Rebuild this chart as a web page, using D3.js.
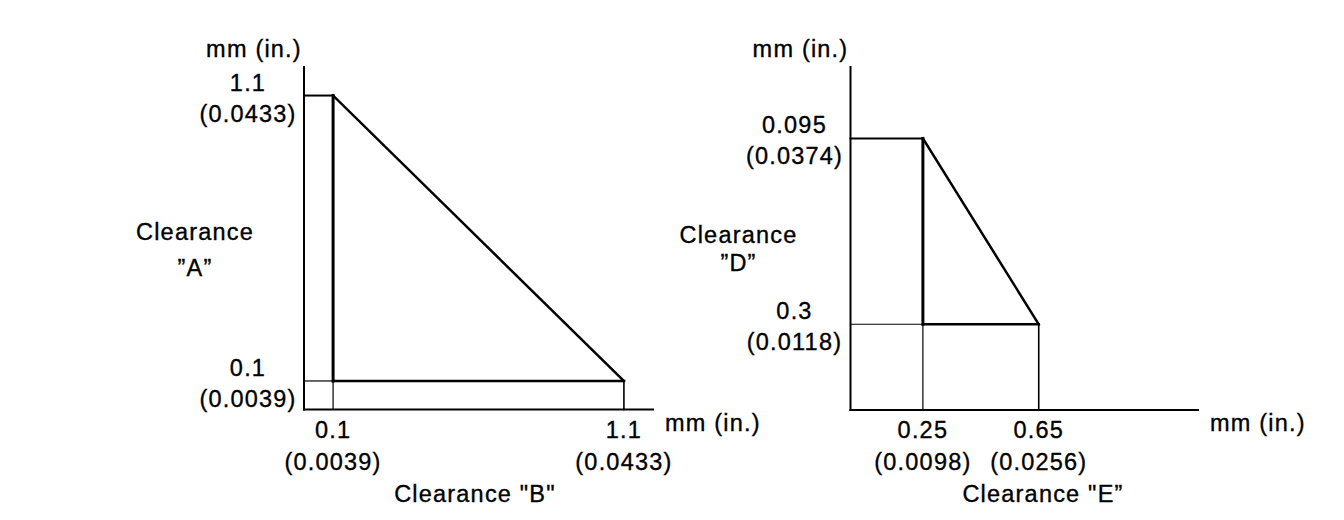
<!DOCTYPE html>
<html>
<head>
<meta charset="utf-8">
<script src="https://cdn.jsdelivr.net/npm/d3@7"></script>
<style>
  html, body { margin: 0; padding: 0; background: #fff; }
  svg text { font-family: "Liberation Sans", Arial, Helvetica, sans-serif; font-size: 23.5px; letter-spacing: 1.2px; fill: #000; stroke: #000; stroke-width: 0.35px; }
</style>
</head>
<body>
<svg id="chart" width="1344" height="520"></svg>
<script>
// ---- data (mm values, with inch equivalents as labels) ----
const leftXTicks = [0.1, 1.1];
const leftXMm = ["0.1", "1.1"];
const leftXIn = ["(0.0039)", "(0.0433)"];
const leftYTicks = [0.1, 1.1];
const leftYMm = ["0.1", "1.1"];
const leftYIn = ["(0.0039)", "(0.0433)"];
const leftShape = [[0.1, 1.1], [1.1, 0.1], [0.1, 0.1]];

const rightXTicks = [0.25, 0.65];
const rightXMm = ["0.25", "0.65"];
const rightXIn = ["(0.0098)", "(0.0256)"];
const rightYTicks = [0.3, 0.95];
const rightYMm = ["0.3", "0.095"];
const rightYIn = ["(0.0118)", "(0.0374)"];
const rightShape = [[0.25, 0.95], [0.65, 0.3], [0.25, 0.3]];

const axisDomain = [0, 1.2];
const unitLabel = "mm (in.)";

const svg = d3.select("#chart");

function panel(opts) {
  const x = d3.scaleLinear().domain(axisDomain).range(opts.xRange);
  const y = d3.scaleLinear().domain(axisDomain).range(opts.yRange);
  const g = svg.append("g");
  const x0 = x(0), y0 = y(0);
  const line = (xa, ya, xb, yb, w) => g.append("line")
    .attr("x1", xa).attr("y1", ya).attr("x2", xb).attr("y2", yb)
    .attr("stroke", "#000").attr("stroke-width", w).attr("stroke-linecap", "square");

  const [tl, br, cn] = opts.shape;   // top-left, bottom-right, corner

  // guide lines
  line(x0, y(tl[1]), x(tl[0]), y(tl[1]), 2);         // top horizontal to axis
  line(x0, y(cn[1]), x(cn[0]), y(cn[1]), 1.2);       // lower horizontal to axis (thin)
  line(x(cn[0]), y(cn[1]), x(cn[0]), y0, 1.2);       // vertical down to axis (thin)
  line(x(br[0]), y(br[1]), x(br[0]), y0, 1.6);       // right vertical down to axis

  // shape
  line(x(tl[0]), y(tl[1]), x(cn[0]), y(cn[1]), 3);
  line(x(tl[0]), y(tl[1]), x(br[0]), y(br[1]), 2.5);
  line(x(cn[0]), y(cn[1]), x(br[0]), y(br[1]), 2.5);

  // axes
  line(x0, y(axisDomain[1]), x0, y0, 2);
  line(x0, y0, x(axisDomain[1]), y0, 2);

  // y tick labels
  opts.yTicks.forEach((v, i) => {
    g.append("text").attr("x", x0 - 56).attr("y", y(v) - 5).attr("text-anchor", "middle").text(opts.yMm[i]);
    g.append("text").attr("x", x0 - 56).attr("y", y(v) + 26).attr("text-anchor", "middle").text(opts.yIn[i]);
  });
  // x tick labels
  opts.xTicks.forEach((v, i) => {
    g.append("text").attr("x", x(v)).attr("y", y0 + 28).attr("text-anchor", "middle").text(opts.xMm[i]);
    g.append("text").attr("x", x(v)).attr("y", y0 + 60).attr("text-anchor", "middle").text(opts.xIn[i]);
  });
  // unit labels
  g.append("text").attr("x", x0 - 50).attr("y", 57).attr("text-anchor", "middle").text(unitLabel);
  g.append("text").attr("x", x(axisDomain[1]) + 12).attr("y", y0 + 21).attr("text-anchor", "start").text(unitLabel);

  // titles
  g.append("text").attr("x", x0 - opts.yTitleDx).attr("y", opts.yTitleY[0]).attr("text-anchor", "middle").text(opts.yTitle[0]);
  g.append("text").attr("x", x0 - opts.yTitleDx).attr("y", opts.yTitleY[1]).attr("text-anchor", "middle").text(opts.yTitle[1]);
  g.append("text").attr("x", opts.xTitleX).attr("y", 502).attr("text-anchor", "middle").text(opts.xTitle);
}

panel({
  xRange: [304, 653], yRange: [409.5, 67],
  xTicks: leftXTicks, xMm: leftXMm, xIn: leftXIn,
  yTicks: leftYTicks, yMm: leftYMm, yIn: leftYIn,
  shape: leftShape,
  yTitle: ["Clearance", "\u201DA\u201D"], yTitleDx: 109, yTitleY: [240, 276],
  xTitle: "Clearance \"B\"", xTitleX: 475
});

panel({
  xRange: [850.5, 1198], yRange: [410, 67],
  xTicks: rightXTicks, xMm: rightXMm, xIn: rightXIn,
  yTicks: rightYTicks, yMm: rightYMm, yIn: rightYIn,
  shape: rightShape,
  yTitle: ["Clearance", "\u201DD\u201D"], yTitleDx: 112, yTitleY: [243, 271],
  xTitle: "Clearance \"E\u201D", xTitleX: 1043
});
</script>
</body>
</html>
